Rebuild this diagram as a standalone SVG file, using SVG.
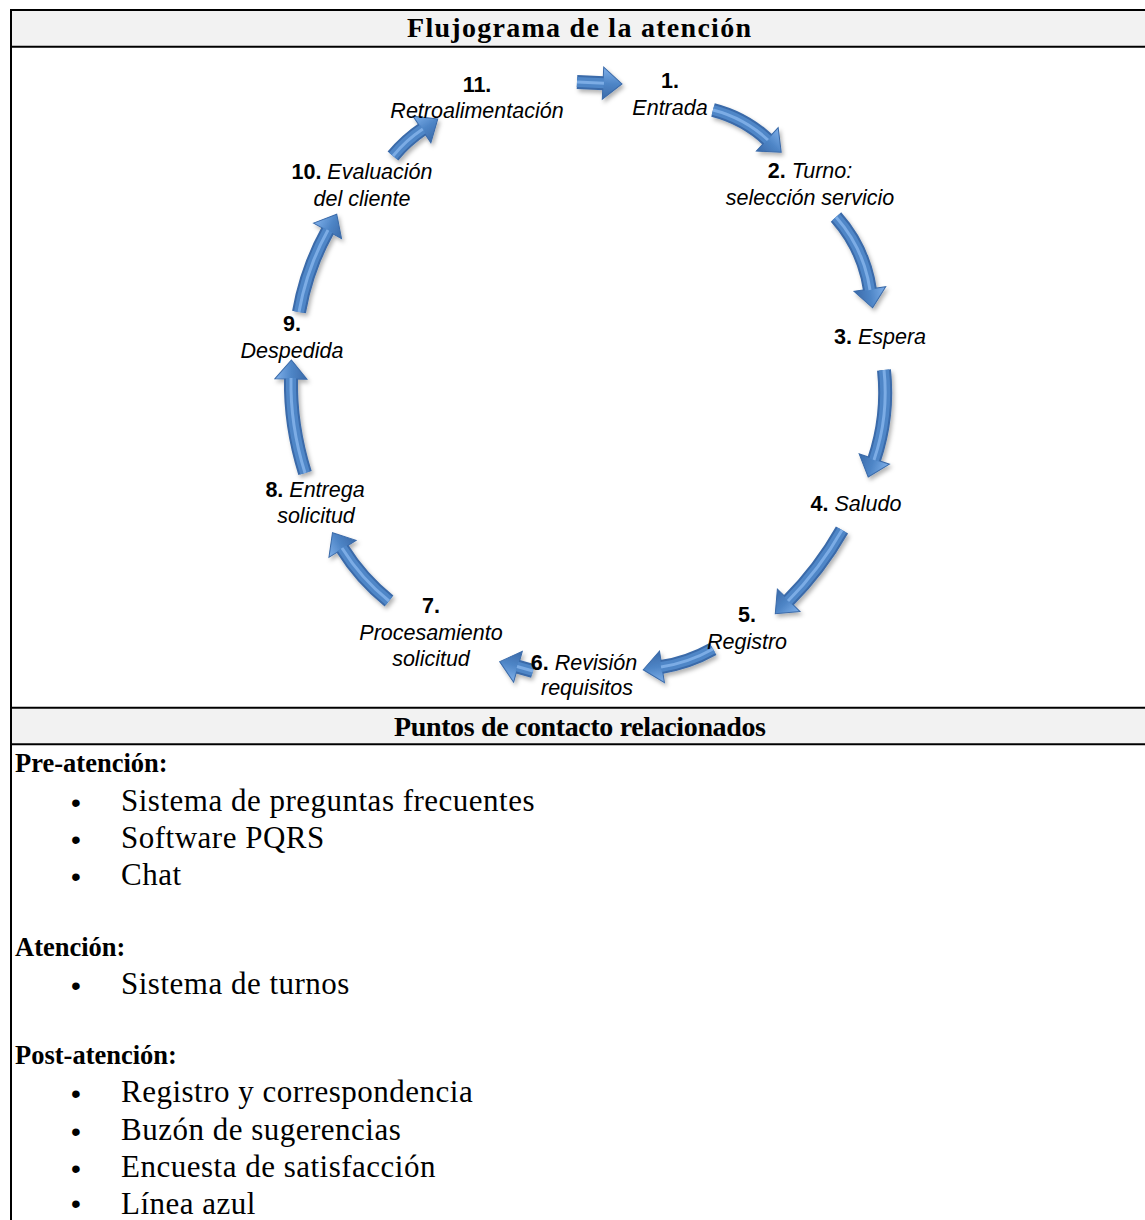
<svg xmlns="http://www.w3.org/2000/svg" width="1145" height="1220" viewBox="0 0 1145 1220">
<style>
.rule{stroke:#000;stroke-width:2;fill:none}
.hdr{fill:#f2f2f2}
.ttl{font-family:"Liberation Serif","Times New Roman",serif;font-weight:bold;font-size:28px;fill:#000;text-anchor:middle}
.sec{font-family:"Liberation Serif","Times New Roman",serif;font-weight:bold;font-size:26.5px;fill:#000}
.itm{font-family:"Liberation Serif","Times New Roman",serif;font-size:31px;letter-spacing:0.5px;fill:#000}
.bul{font-family:"Liberation Sans",Arial,sans-serif;font-size:28px;text-anchor:middle;fill:#000}
.lbl{font-family:"Liberation Sans",Arial,sans-serif;font-size:21.5px;font-style:italic;text-anchor:middle;fill:#000}
.n{font-weight:bold;font-style:normal}
.arr{fill:none;stroke:#3a6aa9;stroke-width:14;marker-end:url(#ah)}
.mid{fill:none;stroke:#4f86c7;stroke-width:10}
.hl{fill:none;stroke:#86b5ec;stroke-width:3;stroke-opacity:.8}
</style>
<defs>
<linearGradient id="hg" x1="0" y1="0" x2="0" y2="1">
<stop offset="0" stop-color="#7fb0ea"/>
<stop offset=".5" stop-color="#4f86c7"/>
<stop offset="1" stop-color="#3a6aa9"/>
</linearGradient>
<marker id="ah" markerUnits="userSpaceOnUse" markerWidth="20" markerHeight="34" viewBox="0 0 20 34" refX="1" refY="17" orient="auto" overflow="visible">
<path d="M0,1 L19,17 L0,33 Z" fill="url(#hg)" stroke="#3a6aa9" stroke-width="1"/>
</marker>
<filter id="sh" filterUnits="userSpaceOnUse" x="0" y="40" width="1145" height="680">
<feDropShadow dx="2" dy="3" stdDeviation="2" flood-color="#000" flood-opacity=".3"/>
</filter>
</defs>

<!-- table frame -->
<g id="table">
<rect class="hdr" x="12" y="11" width="1133" height="35"/>
<rect class="hdr" x="12" y="709" width="1133" height="34"/>
<line class="rule" x1="10" y1="10" x2="1145" y2="10"/>
<line class="rule" x1="10" y1="46.7" x2="1145" y2="46.7"/>
<line class="rule" x1="10" y1="707.7" x2="1145" y2="707.7"/>
<line class="rule" x1="10" y1="744.3" x2="1145" y2="744.3"/>
<line class="rule" x1="11" y1="9" x2="11" y2="1220"/>
<text class="ttl" x="579" y="37" textLength="344" lengthAdjust="spacing">Flujograma de la atención</text>
<text class="ttl" x="580" y="736" textLength="372" lengthAdjust="spacing">Puntos de contacto relacionados</text>
</g>

<!-- cycle connectors -->
<g id="connectors" filter="url(#sh)">
<g id="c11-1"><path class="arr" d="M577,82 L604,83.2"/><path class="mid" d="M577,82 L604,83.2"/><path class="hl" d="M577,82 L604,83.2"/></g>
<g id="c1-2"><path class="arr" d="M713,110 Q744.3,118 768,140"/><path class="mid" d="M713,110 Q744.3,118 768,140"/><path class="hl" d="M713,110 Q744.3,118 768,140"/></g>
<g id="c2-3"><path class="arr" d="M836,217 Q863.9,248.4 870,290"/><path class="mid" d="M836,217 Q863.9,248.4 870,290"/><path class="hl" d="M836,217 Q863.9,248.4 870,290"/></g>
<g id="c3-4"><path class="arr" d="M884,370 Q888.9,416.1 874,460"/><path class="mid" d="M884,370 Q888.9,416.1 874,460"/><path class="hl" d="M884,370 Q888.9,416.1 874,460"/></g>
<g id="c4-5"><path class="arr" d="M842,530 Q819.8,569.1 788,601"/><path class="mid" d="M842,530 Q819.8,569.1 788,601"/><path class="hl" d="M842,530 Q819.8,569.1 788,601"/></g>
<g id="c5-6"><path class="arr" d="M713,649 Q688.6,662.7 661,667"/><path class="mid" d="M713,649 Q688.6,662.7 661,667"/><path class="hl" d="M713,649 Q688.6,662.7 661,667"/></g>
<g id="c6-7"><path class="arr" d="M533,671 L517,666.5"/><path class="mid" d="M533,671 L517,666.5"/><path class="hl" d="M533,671 L517,666.5"/></g>
<g id="c7-8"><path class="arr" d="M389,601 Q361,578.5 342,548"/><path class="mid" d="M389,601 Q361,578.5 342,548"/><path class="hl" d="M389,601 Q361,578.5 342,548"/></g>
<g id="c8-9"><path class="arr" d="M305,473 Q290,425 291,378"/><path class="mid" d="M305,473 Q290,425 291,378"/><path class="hl" d="M305,473 Q290,425 291,378"/></g>
<g id="c9-10"><path class="arr" d="M299,312 Q306.6,268.6 328,230"/><path class="mid" d="M299,312 Q306.6,268.6 328,230"/><path class="hl" d="M299,312 Q306.6,268.6 328,230"/></g>
<g id="c10-11"><path class="arr" d="M393,156 Q405.9,140.3 422.8,129"/><path class="mid" d="M393,156 Q405.9,140.3 422.8,129"/><path class="hl" d="M393,156 Q405.9,140.3 422.8,129"/></g>
</g>

<!-- cycle steps -->
<g id="n1"><text class="lbl" x="670" y="88"><tspan class="n">1.</tspan></text><text class="lbl" x="670" y="115">Entrada</text></g>
<g id="n2"><text class="lbl" x="810" y="178"><tspan class="n">2.</tspan> Turno:</text><text class="lbl" x="810" y="205">selección servicio</text></g>
<g id="n3"><text class="lbl" x="880" y="344"><tspan class="n">3.</tspan> Espera</text></g>
<g id="n4"><text class="lbl" x="856" y="511"><tspan class="n">4.</tspan> Saludo</text></g>
<g id="n5"><text class="lbl" x="747" y="622"><tspan class="n">5.</tspan></text><text class="lbl" x="747" y="649">Registro</text></g>
<g id="n6"><text class="lbl" x="584" y="670"><tspan class="n">6.</tspan> Revisión</text><text class="lbl" x="587" y="695">requisitos</text></g>
<g id="n7"><text class="lbl" x="431" y="613"><tspan class="n">7.</tspan></text><text class="lbl" x="431" y="640">Procesamiento</text><text class="lbl" x="431" y="666">solicitud</text></g>
<g id="n8"><text class="lbl" x="315" y="497"><tspan class="n">8.</tspan> Entrega</text><text class="lbl" x="316" y="523">solicitud</text></g>
<g id="n9"><text class="lbl" x="292" y="331"><tspan class="n">9.</tspan></text><text class="lbl" x="292" y="358">Despedida</text></g>
<g id="n10"><text class="lbl" x="362" y="179"><tspan class="n">10.</tspan> Evaluación</text><text class="lbl" x="362" y="206">del cliente</text></g>
<g id="n11"><text class="lbl" x="477" y="92"><tspan class="n">11.</tspan></text><text class="lbl" x="477" y="118">Retroalimentación</text></g>

<!-- touchpoint list -->
<g id="contactos">
<text class="sec" x="15" y="772">Pre-atención:</text>
<text class="bul" x="76" y="812">•</text><text class="itm" x="121" y="811">Sistema de preguntas frecuentes</text>
<text class="bul" x="76" y="849">•</text><text class="itm" x="121" y="848">Software PQRS</text>
<text class="bul" x="76" y="886">•</text><text class="itm" x="121" y="885">Chat</text>
<text class="sec" x="15" y="956">Atención:</text>
<text class="bul" x="76" y="995">•</text><text class="itm" x="121" y="994">Sistema de turnos</text>
<text class="sec" x="15" y="1064">Post-atención:</text>
<text class="bul" x="76" y="1103">•</text><text class="itm" x="121" y="1102">Registro y correspondencia</text>
<text class="bul" x="76" y="1141">•</text><text class="itm" x="121" y="1140">Buzón de sugerencias</text>
<text class="bul" x="76" y="1178">•</text><text class="itm" x="121" y="1177">Encuesta de satisfacción</text>
<text class="bul" x="76" y="1213">•</text><text class="itm" x="121" y="1214">Línea azul</text>
</g>
</svg>
